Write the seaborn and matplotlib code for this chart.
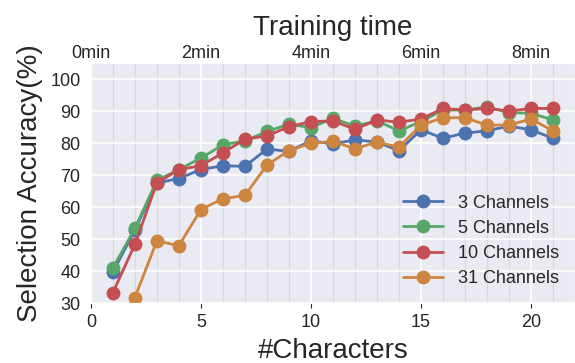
import numpy as np
import pandas as pd
import matplotlib
matplotlib.use('Agg')
import matplotlib.pyplot as plt
import seaborn as sns

chars = list(range(1, 22))
acc_3ch = [39.7, 52.9, 67.6, 69.0, 71.8, 73.0, 72.8, 78.2, 77.5, 80.8, 79.8,
           81.1, 80.4, 77.7, 84.2, 81.6, 83.2, 83.9, 85.4, 84.2, 81.6]
acc_5ch = [41.0, 53.4, 68.4, 71.8, 75.4, 79.5, 80.8, 83.7, 86.0, 84.9, 87.8,
           85.4, 87.0, 83.9, 86.8, 90.4, 90.4, 91.4, 89.6, 89.4, 87.3]
acc_10ch = [33.3, 48.4, 67.6, 71.8, 73.0, 77.0, 81.3, 82.3, 85.2, 86.8, 87.0,
            84.4, 87.3, 86.6, 87.6, 90.9, 90.4, 90.9, 90.1, 90.9, 90.9]
acc_31ch = [np.nan, 31.8, 49.5, 48.0, 59.3, 62.7, 63.7, 73.2, 77.7, 80.0, 80.6,
            78.3, 80.4, 78.8, 85.7, 88.0, 88.0, 85.7, 85.7, 87.6, 83.9]
series_names = ["3 Channels", "5 Channels", "10 Channels", "31 Channels"]
time_ticks = [0, 5, 10, 15, 20]
time_labels = ["0min", "2min", "4min", "6min", "8min"]

sns.set_style("darkgrid")
plt.rcParams['font.family'] = ['Liberation Sans', 'DejaVu Sans']
pal = sns.color_palette("deep")
colors = [pal[0], pal[2], pal[3], "peru"]

rows = []
for name, vals in zip(series_names, [acc_3ch, acc_5ch, acc_10ch, acc_31ch]):
    for c, v in zip(chars, vals):
        if not np.isnan(v):
            rows.append({"chars": c, "acc": v, "series": name})
df = pd.DataFrame(rows)

fig = plt.figure(figsize=(5.75, 3.63), dpi=100)
ax = fig.add_axes([0.158, 0.1645, 0.842, 0.661])

sns.lineplot(data=df, x="chars", y="acc", hue="series", hue_order=series_names,
             palette=colors, marker="o", markersize=10, markeredgewidth=0,
             linewidth=2, ax=ax)

ax.set_xlim(0, 22)
ax.set_ylim(30, 105)
ax.set_yticks(range(30, 101, 10))
ax.set_xticks([0, 5, 10, 15, 20])
ax.set_xticks(range(0, 22), minor=True)
ax.grid(True, which="major", color="white", linewidth=1.2)
ax.grid(True, which="minor", axis="x", color="#d9d9d9", linewidth=0.9)
ax.tick_params(axis="both", which="major", labelsize=13, pad=4)
ax.tick_params(axis="both", which="minor", length=0)
ax.set_xlabel("#Characters", fontsize=20, labelpad=5)
ax.set_ylabel("Selection Accuracy(%)", fontsize=20, labelpad=5)
ax.legend(loc="lower right", fontsize=13, frameon=False,
          bbox_to_anchor=(1.0, 0.0), handlelength=2.2, handletextpad=0.8,
          labelspacing=0.45)

top = ax.twiny()
top.set_xlim(ax.get_xlim())
top.set_xticks(time_ticks)
top.set_xticklabels(time_labels)
top.grid(False)
top.tick_params(axis="x", labelsize=13, length=0, pad=1)
top.set_xlabel("Training time", fontsize=20, labelpad=7)

fig.savefig("out.png", dpi=100)
